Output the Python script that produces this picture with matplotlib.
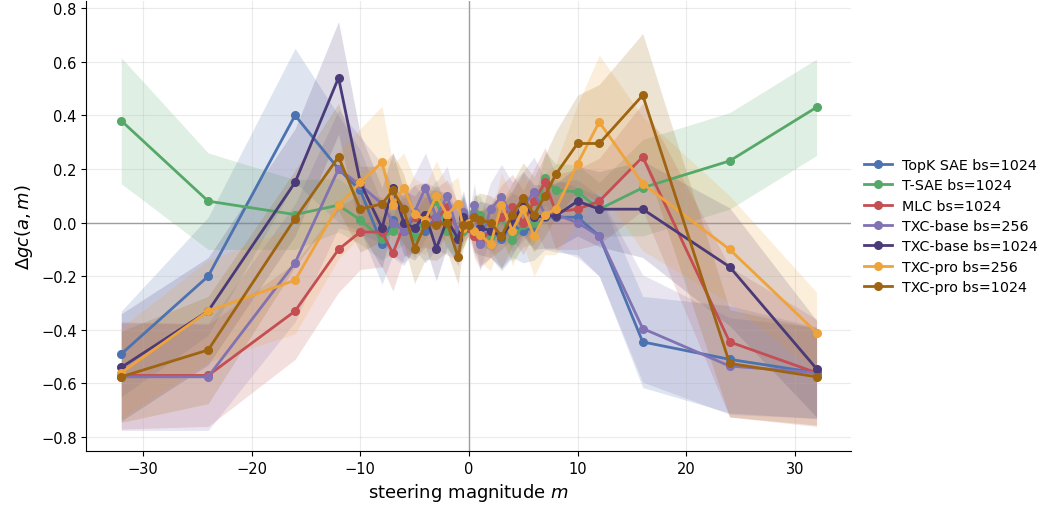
import numpy as np
import matplotlib
matplotlib.use("Agg")
import matplotlib.pyplot as plt

# steering magnitudes
m = [-32, -24, -16, -12, -10, -8, -7, -6, -5, -4, -3, -2, -1, -0.5, 0,
     0.5, 1, 2, 3, 4, 5, 6, 7, 8, 10, 12, 16, 24, 32]

labels = ["TopK SAE bs=1024", "T-SAE bs=1024", "MLC bs=1024",
          "TXC-base bs=256", "TXC-base bs=1024", "TXC-pro bs=256",
          "TXC-pro bs=1024"]
colors = ["#4C72B0", "#55A868", "#C44E52", "#8172B3", "#4A3A78",
          "#EEA33B", "#9E6410"]

topk_mean = [-0.49, -0.20, 0.40, 0.20, 0.12, -0.08, 0.01, -0.03, 0.02, -0.03,
             0.02, -0.02, -0.04, 0.03, 0.0, -0.03, -0.06, -0.03, -0.06, -0.01,
             -0.03, -0.02, 0.02, 0.02, 0.02, -0.05, -0.445, -0.51, -0.56]
topk_err = [0.16, 0.22, 0.25, 0.20, 0.15, 0.15, 0.13, 0.12, 0.12, 0.12, 0.12,
            0.10, 0.10, 0.08, 0.03, 0.08, 0.10, 0.10, 0.12, 0.12, 0.12, 0.12,
            0.12, 0.13, 0.14, 0.15, 0.17, 0.20, 0.17]

tsae_mean = [0.38, 0.08, 0.03, 0.065, 0.01, -0.06, -0.03, 0.0, -0.05, 0.02,
             0.08, -0.03, -0.06, -0.03, -0.02, 0.04, 0.03, -0.05, 0.02, -0.065,
             -0.01, 0.0, 0.165, 0.12, 0.115, 0.05, 0.13, 0.23, 0.43]
tsae_err = [0.235, 0.18, 0.13, 0.10, 0.09, 0.08, 0.08, 0.08, 0.08, 0.08, 0.08,
            0.07, 0.07, 0.06, 0.03, 0.06, 0.07, 0.07, 0.08, 0.08, 0.08, 0.08,
            0.10, 0.10, 0.10, 0.10, 0.18, 0.18, 0.18]

mlc_mean = [-0.57, -0.57, -0.33, -0.10, -0.035, -0.035, -0.115, -0.01, 0.02,
            0.03, 0.01, 0.06, -0.03, 0.01, -0.02, -0.05, -0.07, -0.03, 0.02,
            0.06, 0.0, 0.08, 0.15, 0.04, 0.05, 0.08, 0.245, -0.445, -0.56]
mlc_err = [0.20, 0.19, 0.18, 0.16, 0.14, 0.13, 0.14, 0.12, 0.12, 0.12, 0.12,
           0.10, 0.10, 0.08, 0.03, 0.08, 0.10, 0.10, 0.12, 0.12, 0.12, 0.12,
           0.13, 0.14, 0.15, 0.16, 0.20, 0.28, 0.20]

txcb256_mean = [-0.575, -0.575, -0.15, 0.20, 0.14, 0.07, 0.0, -0.03, 0.04,
                0.13, 0.02, 0.10, -0.04, 0.04, 0.0, 0.065, -0.08, 0.05, 0.097,
                0.02, 0.06, 0.115, 0.03, 0.03, 0.0, -0.05, -0.395, -0.535, -0.56]
txcb256_err = [0.20, 0.20, 0.22, 0.22, 0.18, 0.15, 0.13, 0.13, 0.14, 0.13,
               0.13, 0.11, 0.10, 0.08, 0.03, 0.08, 0.10, 0.10, 0.12, 0.13,
               0.13, 0.13, 0.13, 0.13, 0.13, 0.15, 0.20, 0.18, 0.17]

txcb1024_mean = [-0.54, -0.33, 0.15, 0.54, 0.15, -0.02, 0.13, 0.0, -0.02, 0.03,
                 -0.097, 0.01, -0.06, 0.02, 0.0, -0.03, -0.02, -0.03, -0.05,
                 0.0, 0.07, 0.02, 0.025, 0.025, 0.08, 0.05, 0.05, -0.165, -0.545]
txcb1024_err = [0.20, 0.20, 0.20, 0.21, 0.18, 0.15, 0.13, 0.12, 0.12, 0.12,
                0.12, 0.10, 0.10, 0.08, 0.03, 0.08, 0.10, 0.10, 0.12, 0.12,
                0.12, 0.12, 0.12, 0.12, 0.13, 0.14, 0.18, 0.22, 0.18]

txcp256_mean = [-0.56, -0.33, -0.215, 0.065, 0.15, 0.225, 0.067, 0.13, 0.033,
                0.01, 0.10, 0.03, 0.07, -0.02, 0.0, -0.03, -0.045, -0.08, 0.067,
                -0.03, 0.05, -0.05, 0.03, 0.05, 0.22, 0.375, 0.145, -0.10, -0.41]
txcp256_err = [0.17, 0.19, 0.20, 0.20, 0.20, 0.21, 0.15, 0.13, 0.13, 0.13,
               0.13, 0.11, 0.10, 0.08, 0.03, 0.08, 0.10, 0.10, 0.12, 0.13,
               0.13, 0.15, 0.15, 0.17, 0.22, 0.25, 0.25, 0.20, 0.15]

txcp1024_mean = [-0.575, -0.475, 0.015, 0.245, 0.05, 0.07, 0.12, 0.05, -0.097,
                 -0.007, -0.01, 0.0, -0.13, -0.01, -0.01, 0.02, 0.01, 0.0,
                 -0.05, 0.03, 0.093, 0.03, 0.10, 0.18, 0.295, 0.295, 0.475,
                 -0.525, -0.575]
txcp1024_err = [0.17, 0.20, 0.18, 0.20, 0.16, 0.14, 0.14, 0.13, 0.13, 0.13,
                0.13, 0.11, 0.10, 0.08, 0.03, 0.08, 0.10, 0.10, 0.12, 0.12,
                0.13, 0.14, 0.15, 0.16, 0.18, 0.22, 0.23, 0.20, 0.18]

means = [topk_mean, tsae_mean, mlc_mean, txcb256_mean, txcb1024_mean,
         txcp256_mean, txcp1024_mean]
errs = [topk_err, tsae_err, mlc_err, txcb256_err, txcb1024_err,
        txcp256_err, txcp1024_err]

fig = plt.figure(figsize=(10.42, 5.10), dpi=100)
ax = fig.add_axes([0.083, 0.114, 0.734, 0.882])

x = np.array(m)
for lab, col, mu, e in zip(labels, colors, means, errs):
    mu = np.array(mu)
    e = np.array(e)
    ax.fill_between(x, mu - e, mu + e, color=col, alpha=0.18, linewidth=0)
    ax.plot(x, mu, "-o", color=col, lw=2, ms=5.5, label=lab)

ax.axhline(0, color="gray", lw=1, alpha=0.8, zorder=0)
ax.axvline(0, color="gray", lw=1, alpha=0.8, zorder=0)
ax.grid(True, alpha=0.25)
ax.spines["top"].set_visible(False)
ax.spines["right"].set_visible(False)
ax.tick_params(labelsize=10.5)
ax.set_xlabel("steering magnitude $m$", fontsize=13)
ax.set_ylabel(r"$\Delta gc(a,m)$", fontsize=13)
ax.set_xticks([-30, -20, -10, 0, 10, 20, 30])
ax.set_yticks([-0.8, -0.6, -0.4, -0.2, 0.0, 0.2, 0.4, 0.6, 0.8])
ax.legend(loc="center left", bbox_to_anchor=(1.003, 0.5), frameon=False,
          fontsize=10.3, handlelength=2.0, handletextpad=0.7,
          borderaxespad=0.3, labelspacing=0.45)

fig.savefig("out.png", dpi=100)
